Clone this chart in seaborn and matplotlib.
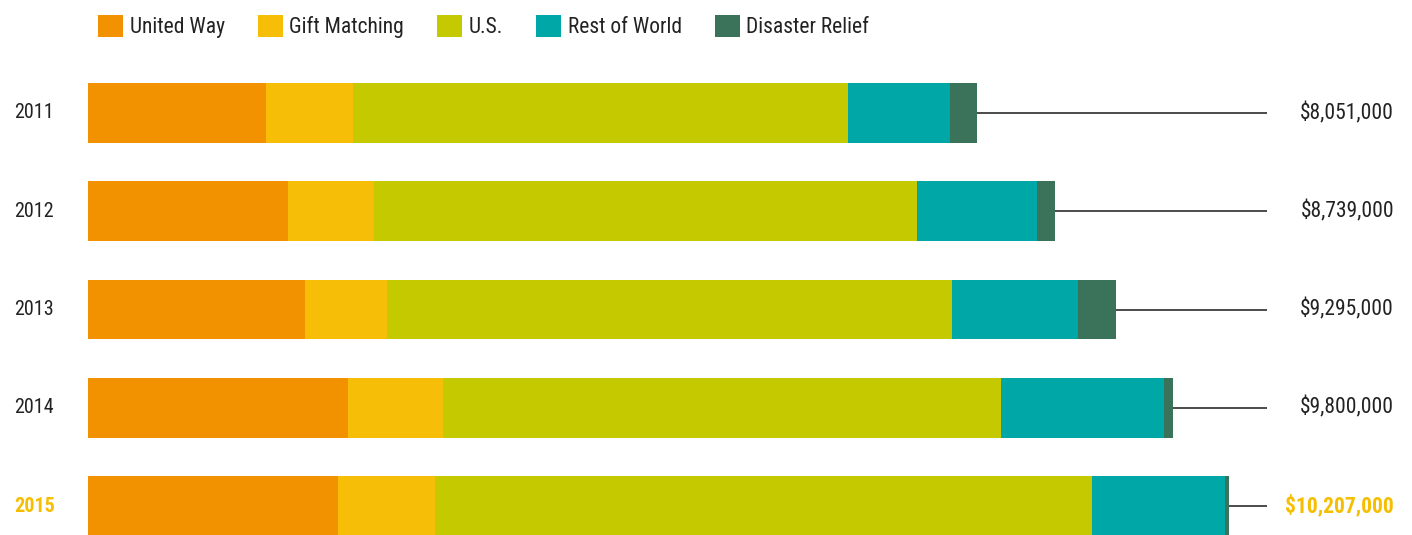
import matplotlib
matplotlib.use("Agg")
import matplotlib.pyplot as plt
from matplotlib import font_manager
from matplotlib.patches import Patch
import seaborn as sns
import pandas as pd
import numpy as np

# ---------------- data (values in thousands of dollars) ----------------
years = ["2011", "2012", "2013", "2014", "2015"]
series_names = ["United Way", "Gift Matching", "U.S.", "Rest of World", "Disaster Relief"]
united_way = [1609, 1808, 1962, 2351, 2260]
gift_matching = [787, 778, 741, 859, 877]
us = [4476, 4910, 5108, 5045, 5940]
rest_of_world = [922, 1085, 1139, 1474, 1203]
disaster_relief = [244, 163, 344, 81, 32]
total_labels = ["$8,051,000", "$8,739,000", "$9,295,000", "$9,800,000", "$10,207,000"]

colors = ["#F39200", "#F6BE06", "#C5CA00", "#00A7A7", "#3B735A"]
highlight = "#F5BE00"
text_color = "#222222"

sns.set_theme(style="white")
available = {f.name for f in font_manager.fontManager.ttflist}
family = None
for cand in ["Liberation Sans Narrow", "Roboto Condensed", "Open Sans Condensed", "Roboto", "Liberation Sans", "DejaVu Sans"]:
    if cand in available:
        family = cand
        break
plt.rcParams["font.family"] = [family, "DejaVu Sans"]

df = pd.DataFrame({
    "Year": years,
    "United Way": united_way,
    "Gift Matching": gift_matching,
    "U.S.": us,
    "Rest of World": rest_of_world,
    "Disaster Relief": disaster_relief,
})
cum = df[series_names].cumsum(axis=1)
cum["Year"] = df["Year"]

W, H = 1412, 535
fig = plt.figure(figsize=(W / 100, H / 100), dpi=100)
ax = fig.add_axes([0, 0, 1, 1])

# pixel scale: 1 px = 9.04 thousand dollars, zero at x=88 px
k_per_px = 9.04
x0_px = 88
ax_xmin = -x0_px * k_per_px
ax_xmax = (W - x0_px) * k_per_px

for name, col in reversed(list(zip(series_names, colors))):
    sns.barplot(data=cum, x=name, y="Year", orient="h", color=col, saturation=1,
                width=0.61, errorbar=None, linewidth=0, ax=ax)

ax.set_xlim(ax_xmin, ax_xmax)
row_px = 98.25
first_px = 113
ax.set_ylim((H - first_px) / row_px, -first_px / row_px)
ax.axis("off")

line_end = (1267 - x0_px) * k_per_px
totals = cum["Disaster Relief"].values
for i, (yr, tot, lab) in enumerate(zip(years, totals, total_labels)):
    last = i == len(years) - 1
    ax.hlines(i, tot, line_end, color="#1a1a1a", lw=1.1)
    ax.text(14 / W, i, yr, transform=ax.get_yaxis_transform(), ha="left", va="center",
            fontsize=14.5, color=highlight if last else text_color,
            fontweight="bold" if last else "normal")
    ax.text(1394 / W, i, lab, transform=ax.get_yaxis_transform(), ha="right", va="center",
            fontsize=15.5, color=highlight if last else text_color,
            fontweight="bold" if last else "normal")

handles = [Patch(facecolor=c, edgecolor="none", label=n) for n, c in zip(series_names, colors)]
leg = fig.legend(handles=handles, loc="upper left", bbox_to_anchor=(92 / W, 1 - 9 / H),
                 ncol=5, frameon=False, fontsize=15.5, handlelength=1.15, handleheight=1.15,
                 handletextpad=0.3, columnspacing=1.55, borderaxespad=0, borderpad=0.3)
for t in leg.get_texts():
    t.set_color(text_color)

fig.savefig("out.png", dpi=100)
